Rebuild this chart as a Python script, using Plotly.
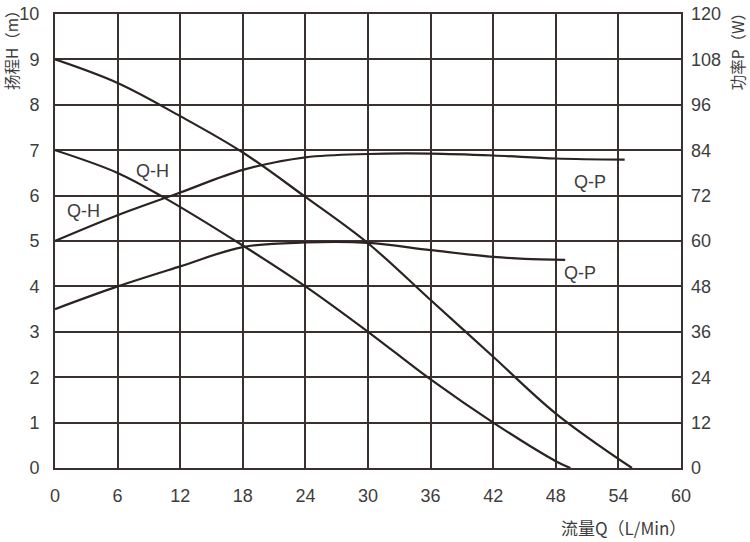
import plotly.graph_objects as go

# Flow (L/Min) and head (m) for the two Q-H curves
qh1_q = [0, 6, 12, 18, 24, 30, 36, 42, 48, 55.3]
qh1_h = [9, 8.48, 7.75, 6.95, 5.97, 4.95, 3.7, 2.45, 1.2, 0]
qh2_q = [0, 6, 10.5, 18, 24, 30, 36, 42, 48, 49.4]
qh2_h = [7, 6.5, 5.95, 4.9, 4.0, 3.0, 1.95, 1.0, 0.15, 0]

# Flow and power (W) for the two Q-P curves
qp1_q = [0, 6, 12, 18, 24, 30, 36, 42, 48, 54.6]
qp1_p = [60, 66.8, 72.8, 78.8, 82.1, 83.0, 83.1, 82.6, 81.8, 81.5]
qp2_q = [0, 6, 12, 18, 24, 30, 36, 42, 45, 48.9]
qp2_p = [42, 48, 53.3, 58.4, 59.6, 59.5, 57.6, 55.8, 55.3, 55.0]

x_ticks = [0, 6, 12, 18, 24, 30, 36, 42, 48, 54, 60]
h_ticks = list(range(0, 11))
p_ticks = [0, 12, 24, 36, 48, 60, 72, 84, 96, 108, 120]

labels = [
    ("Q-H", 9.3, 6.54),
    ("Q-H", 2.7, 5.66),
    ("Q-P", 51.3, 6.3),
    ("Q-P", 50.3, 4.3),
]

line_color = "#2b2222"
grid_color = "#3a3030"
text_color = "#3d3d3d"
font_family = "Liberation Sans, Arial, sans-serif"
cjk_family = "Noto Sans CJK SC, sans-serif"

fig = go.Figure()
for xs, ys in [(qh1_q, qh1_h), (qh2_q, qh2_h)]:
    fig.add_trace(go.Scatter(x=xs, y=ys, mode="lines", yaxis="y",
                             line=dict(color=line_color, width=2.2, shape="spline", smoothing=1.0),
                             showlegend=False, hoverinfo="skip"))
for xs, ys in [(qp1_q, qp1_p), (qp2_q, qp2_p)]:
    fig.add_trace(go.Scatter(x=xs, y=ys, mode="lines", yaxis="y2",
                             line=dict(color=line_color, width=2.2, shape="spline", smoothing=1.0),
                             showlegend=False, hoverinfo="skip"))

for text, x, y in labels:
    fig.add_annotation(x=x, y=y, xref="x", yref="y", text=text, showarrow=False,
                       font=dict(size=18, color=text_color, family=font_family))

fig.add_annotation(x=-0.07, y=1.031, xref="paper", yref="paper", text="扬程H（m）",
                   textangle=-90, showarrow=False, xanchor="center", yanchor="top",
                   font=dict(size=15.5, color=text_color, family=cjk_family))
fig.add_annotation(x=1.089, y=1.024, xref="paper", yref="paper", text="功率P（W）",
                   textangle=-90, showarrow=False, xanchor="center", yanchor="top",
                   font=dict(size=15.5, color=text_color, family=cjk_family))
fig.add_annotation(x=1.011, y=-0.13, xref="paper", yref="paper", text="流量Q（L/Min）",
                   showarrow=False, xanchor="right", yanchor="middle",
                   font=dict(size=17, color=text_color, family=cjk_family))

axis_common = dict(showline=True, linecolor=grid_color, linewidth=2, mirror=True,
                   zeroline=False, ticks="", automargin=False,
                   tickfont=dict(size=18, color=text_color, family=font_family))

fig.update_layout(
    width=750, height=542,
    margin=dict(l=55, r=69, t=14, b=74),
    paper_bgcolor="white", plot_bgcolor="white",
    font=dict(family=font_family, size=18, color=text_color),
    xaxis=dict(range=[0, 60], tickvals=x_ticks, showgrid=True, gridcolor=grid_color, gridwidth=2,
               ticklabelstandoff=10, **axis_common),
    yaxis=dict(range=[0, 10], tickvals=h_ticks, showgrid=True, gridcolor=grid_color, gridwidth=2,
               ticklabelstandoff=10, **axis_common),
    yaxis2=dict(range=[0, 120], tickvals=p_ticks, overlaying="y", side="right", showgrid=False,
                zeroline=False, showline=False, ticks="", automargin=False, ticklabelstandoff=9,
                tickfont=dict(size=18, color=text_color, family=font_family)),
)

fig.write_html("out.html", config={"displayModeBar": False},
               post_script="document.body.style.margin='0px';")
